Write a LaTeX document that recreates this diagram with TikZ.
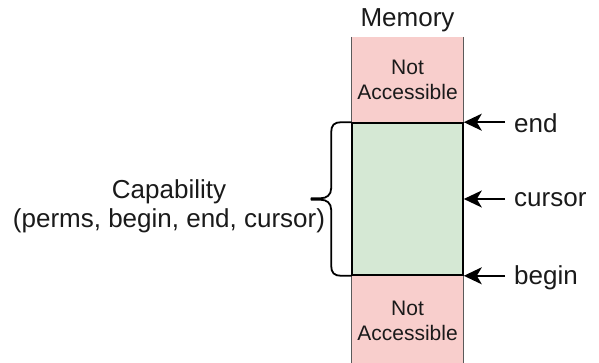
\documentclass[tikz,border=0pt]{standalone}
\usepackage{fontspec}
\setmainfont{Liberation Sans}
\usetikzlibrary{arrows.meta}
\definecolor{nored}{HTML}{F8CECC}
\definecolor{okgreen}{HTML}{D5E8D4}
\definecolor{sideline}{HTML}{5A5A5A}
\definecolor{ink}{HTML}{1A1A1A}
\begin{document}
\begin{tikzpicture}[x=1pt,y=-1pt,
  big/.style={font=\fontsize{26}{29}\selectfont, text=ink, inner sep=0pt},
  small/.style={font=\fontsize{21}{25}\selectfont, text=ink, align=center},
  blocked/.style={small, fill=nored, draw=none, minimum width=111pt, inner sep=0pt},
  sideedge/.style={draw=sideline, line width=1pt},
  capbox/.style={draw=black, line width=1.6pt, fill=okgreen, minimum width=111pt, minimum height=152pt, inner sep=0pt},
  brace/.style={draw=black, line width=1.8pt, line join=round, line cap=round},
  arr/.style={draw=black, line width=1.8pt, -{Stealth[length=18pt,width=17pt,inset=5pt]}},
  pointer/.style={big, inner xsep=9pt, inner ysep=0pt}]
\useasboundingbox (0,0) rectangle (599,363);
\begin{scope}
  \clip (0,0) rectangle (599,363);
  % memory column: blocked regions above and below the capability range
  \node[blocked, minimum height=86pt] (top) at (407.5,80) {Not\\Accessible};
  \node[blocked, minimum height=92pt] (bot) at (407.5,321) {Not\\Accessible};
  \draw[sideedge] (top.north west) -- (top.south west) (top.north east) -- (top.south east);
  \draw[sideedge] (bot.north west) -- (bot.south west) (bot.north east) -- (bot.south east);
  \node[capbox] (cap) at (407.5,199) {};
\end{scope}

\node[big, anchor=base] (mem) at (407.5,27) {Memory};

% curly brace on the left of the accessible range
\draw[brace] (cap.north west) -- ++(-10,0)
  .. controls +(-7,0) and +(0,-7) .. ++(-10,10) -- ++(0,56)
  .. controls +(0,7) and +(5,0) .. ++(-10,10) -- ++(-10,0);
\draw[brace] (cap.south west) -- ++(-10,0)
  .. controls +(-7,0) and +(0,7) .. ++(-10,-10) -- ++(0,-56)
  .. controls +(0,-7) and +(5,0) .. ++(-10,-10) -- ++(-10,0);

\node[big, align=center] (capl) at (169,206) {Capability\\(perms, begin, end, cursor)};

% bound and cursor pointers
\node[pointer, anchor=base west] (endl) at (505,133) {end};
\node[pointer, anchor=base west] (curl) at (505,207) {cursor};
\node[pointer, anchor=base west] (begl) at (505,284) {begin};
\draw[arr] (endl.west |- cap.north east) -- (cap.north east);
\draw[arr] (curl.west |- cap.east) -- (cap.east);
\draw[arr] (begl.west |- cap.south east) -- (cap.south east);
\end{tikzpicture}
\end{document}
